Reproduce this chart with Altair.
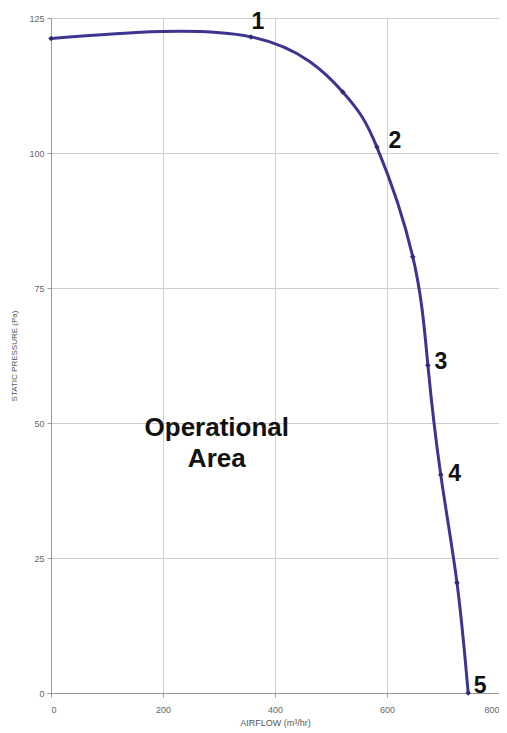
import altair as alt
import pandas as pd

airflow = [0, 357, 521, 582, 646, 673, 696, 725, 745]
pressure = [121.2, 121.5, 111.3, 101.1, 80.8, 60.7, 40.4, 20.4, 0]
point_labels = ["", "1", "", "2", "", "3", "4", "", "5"]

area_text = ["Operational", "Area"]
area_pos_x = [296]
area_pos_y = [49]

df = pd.DataFrame({"airflow": airflow, "pressure": pressure, "label": point_labels})

LINE_COLOR = "#3d3590"

x_scale = alt.Scale(domain=[0, 800], nice=False, zero=False)
y_scale = alt.Scale(domain=[0, 125], nice=False, zero=False)

x_axis = alt.Axis(values=[0, 200, 400, 600, 800], title="AIRFLOW (m³/hr)",
                  titleFontSize=9, titleFontWeight="normal", titleColor="#555",
                  labelFontSize=9, labelColor="#666", gridColor="#cfcfcf",
                  domainColor="#999", tickColor="#999", tickSize=4,
                  labelPadding=8, titlePadding=4, labelFont="Liberation Sans",
                  titleFont="Liberation Sans")
y_axis = alt.Axis(values=[0, 25, 50, 75, 100, 125], title="STATIC PRESSURE (Pa)",
                  titleFontSize=8, titleFontWeight="normal", titleColor="#555",
                  labelFontSize=9, labelColor="#666", gridColor="#cfcfcf",
                  domainColor="#999", tickColor="#999", tickSize=4,
                  labelPadding=3, titlePadding=10, labelFont="Liberation Sans",
                  titleFont="Liberation Sans")

base = alt.Chart(df)

line = base.mark_line(color=LINE_COLOR, strokeWidth=3, interpolate="natural").encode(
    x=alt.X("airflow:Q", scale=x_scale, axis=x_axis),
    y=alt.Y("pressure:Q", scale=y_scale, axis=y_axis),
)

pts = base.mark_point(color="#2e2878", filled=True, size=30, opacity=1, shape="diamond").encode(
    x=alt.X("airflow:Q", scale=x_scale),
    y=alt.Y("pressure:Q", scale=y_scale),
)

offsets = {"1": (7, -15), "2": (18, -6), "3": (13, -3), "4": (14, -1), "5": (12, -7)}
label_layers = []
for lab, (dx, dy) in offsets.items():
    label_layers.append(
        alt.Chart(df).transform_filter(alt.datum.label == lab)
        .mark_text(font="Liberation Sans", fontSize=23, fontWeight="bold",
                   color="#111", dx=dx, dy=dy, align="center", baseline="middle")
        .encode(x=alt.X("airflow:Q", scale=x_scale),
                y=alt.Y("pressure:Q", scale=y_scale),
                text="label:N")
    )

area_df = pd.DataFrame({"x": area_pos_x, "y": area_pos_y, "t": [area_text]})
area = alt.Chart(area_df).mark_text(font="Liberation Sans", fontSize=26, fontWeight="bold",
                                    color="#111", lineHeight=31, align="center",
                                    baseline="middle").encode(
    x=alt.X("x:Q", scale=x_scale),
    y=alt.Y("y:Q", scale=y_scale),
    text="t",
)

chart = alt.layer(line, pts, *label_layers, area).properties(
    width=448, height=675,
    autosize=alt.AutoSizeParams(type="none"),
    padding={"left": 43, "top": 10, "right": 0, "bottom": 38},
).configure_view(stroke=None).configure(background="white")

chart.save("out.html", embed_options={"renderer": "svg", "actions": False})
